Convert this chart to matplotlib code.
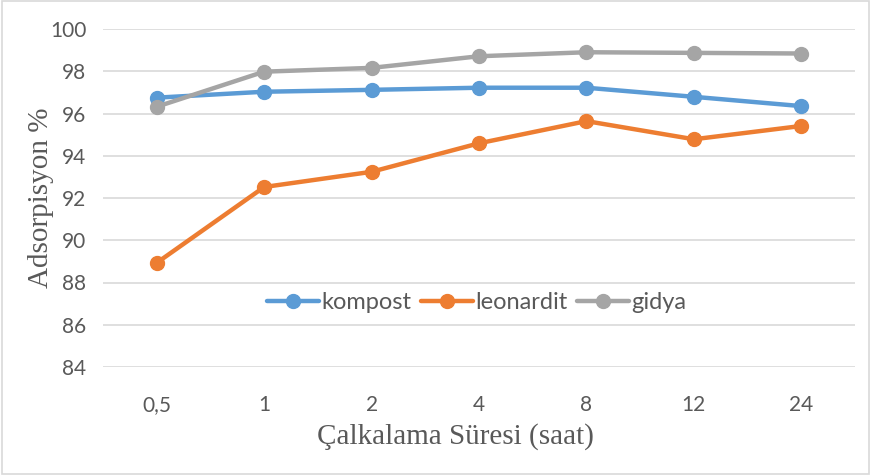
import numpy as np
import matplotlib.pyplot as plt
from matplotlib.patches import Rectangle

# veri
sureler = ['0,5', '1', '2', '4', '8', '12', '24']
kompost = [96.75, 97.03, 97.12, 97.22, 97.22, 96.79, 96.35]
leonardit = [88.93, 92.52, 93.24, 94.59, 95.64, 94.78, 95.41]
gidya = [96.32, 97.98, 98.16, 98.71, 98.9, 98.87, 98.84]

renkler = ['#5B9BD5', '#ED7D31', '#A5A5A5']
gri_yazi = '#595959'

fig = plt.figure(figsize=(8.71, 4.75), dpi=100)
ax = fig.add_axes([103/871, 1-367/475, (855-103)/871, (367-29)/475])

x = np.arange(len(sureler))
for seri, ad, renk in zip([kompost, leonardit, gidya], ['kompost', 'leonardit', 'gidya'], renkler):
    ax.plot(x, seri, color=renk, linewidth=3.2, marker='o', markersize=10, label=ad, solid_capstyle='round')

ax.set_xlim(-0.5, 6.5)
ax.set_ylim(84, 100)
ax.set_yticks(np.arange(84, 101, 2))
ax.set_xticks(x)
ax.set_xticklabels(sureler)
ax.grid(axis='y', color='#D9D9D9', linewidth=1.2)
ax.set_axisbelow(True)
for s in ax.spines.values():
    s.set_visible(False)
ax.tick_params(length=0, labelsize=15, colors=gri_yazi, pad=12)
ax.tick_params(axis='x', pad=20)
for lab in ax.get_xticklabels() + ax.get_yticklabels():
    lab.set_family('Lato')

ax.set_ylabel('Adsorpisyon %', family='Liberation Serif', fontsize=21, color=gri_yazi, labelpad=-3)
ax.set_xlabel('Çalkalama Süresi (saat)', family='Liberation Serif', fontsize=21, color=gri_yazi, labelpad=8)
ax.xaxis.set_label_coords(0.469, -0.165)

leg = ax.legend(loc='center', bbox_to_anchor=(0.497, 0.19), ncol=3, frameon=False,
                prop={'family': 'Lato', 'size': 17},
                handlelength=2.2, handletextpad=0.1, columnspacing=0.4)
for t in leg.get_texts():
    t.set_color(gri_yazi)

fig.patches.append(Rectangle((0.002, 0.003), 0.996, 0.994, transform=fig.transFigure,
                             fill=False, edgecolor='#D9D9D9', linewidth=1.2))

fig.savefig('out.png', dpi=100)
